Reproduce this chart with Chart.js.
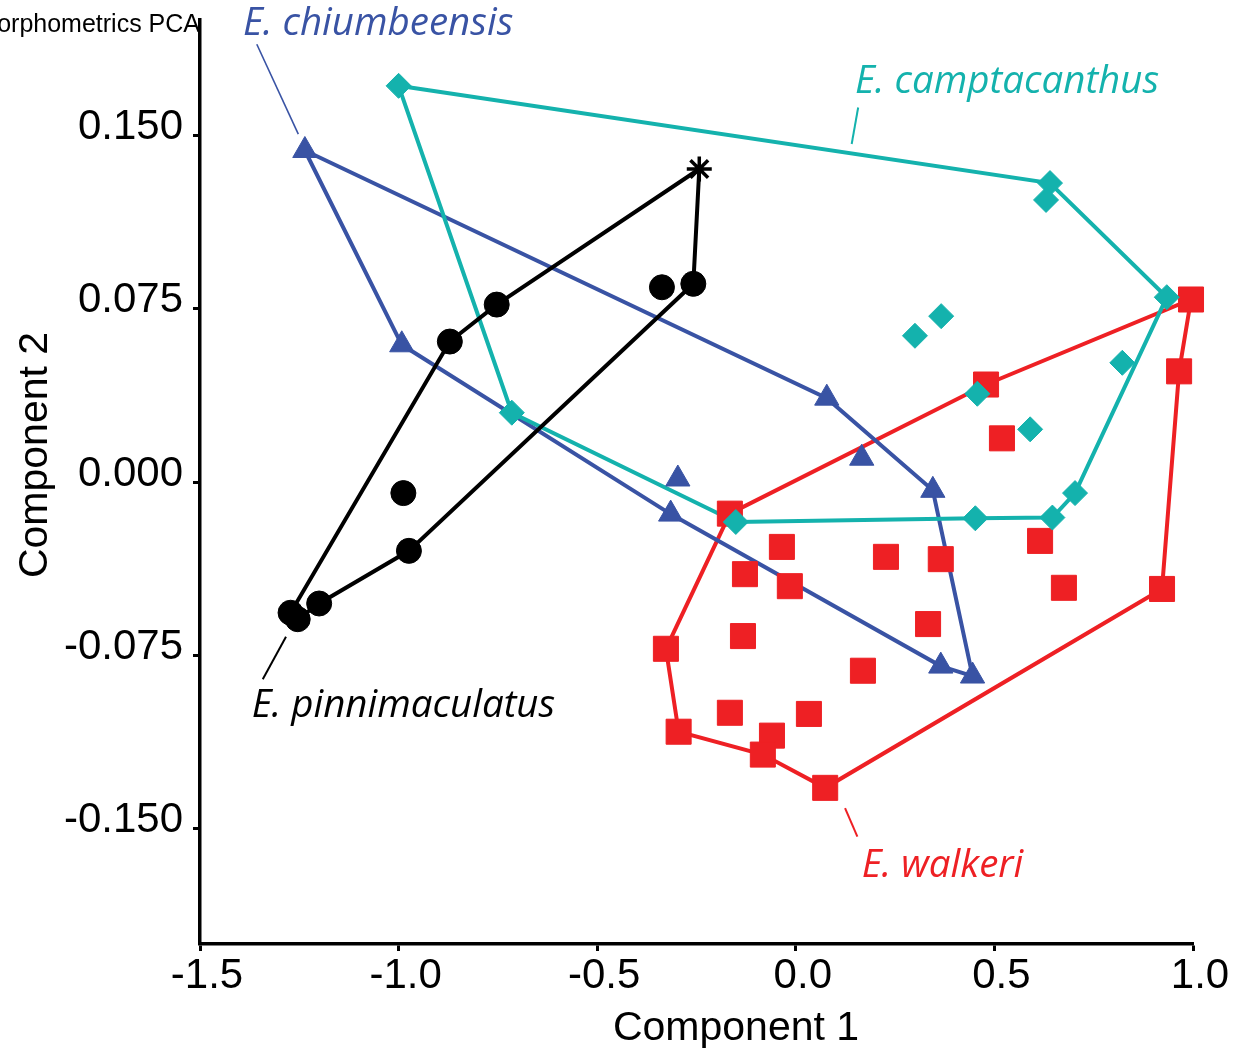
<!DOCTYPE html>
<html>
<head>
<meta charset="utf-8">
<script src="https://cdn.jsdelivr.net/npm/chart.js@4.4.0/dist/chart.umd.min.js"></script>
<style>
  html, body { margin: 0; padding: 0; background: #fff; }
  #wrap { width: 1236px; height: 1049px; }
</style>
</head>
<body>
<div id="wrap"><canvas id="pca" width="1236" height="1049"></canvas></div>
<script>
// axis ticks
const xTicks = [-1.5, -1.0, -0.5, 0.0, 0.5, 1.0];
const yTicks = [-0.150, -0.075, 0.000, 0.075, 0.150];

// E. pinnimaculatus (first specimen is the asterisk)
const pinniX = [-0.243, -0.258, -0.337, -0.753, -0.871, -0.988, -0.974, -1.200, -1.272, -1.254];
const pinniY = [0.1355, 0.0858, 0.0843, 0.0768, 0.0608, -0.0048, -0.0298, -0.0526, -0.0566, -0.0594];
const pinniHull = [0, 1, 6, 7, 9, 8, 4, 3, 0];

// E. chiumbeensis
const chiumX = [-1.236, -0.992, -0.297, -0.315, 0.078, 0.166, 0.345, 0.365, 0.445];
const chiumY = [0.1435, 0.0594, 0.0013, -0.0139, 0.0363, 0.0103, -0.0036, -0.0797, -0.0840];
const chiumHull = [0, 4, 6, 8, 7, 3, 1, 0];

// E. camptacanthus
const camptX = [-1.000, -0.715, -0.151, 0.640, 0.630, 0.934, 0.366, 0.300, 0.822, 0.457, 0.590, 0.703, 0.646, 0.452];
const camptY = [0.1715, 0.0300, -0.0173, 0.1294, 0.1221, 0.0800, 0.0718, 0.0633, 0.0516, 0.0382, 0.0228, -0.0048, -0.0154, -0.0157];
const camptHull = [0, 3, 5, 11, 12, 13, 2, 1, 0];

// E. walkeri
const walkX = [-0.166, -0.035, -0.128, -0.015, 0.227, 0.365, 0.333, -0.133, -0.327, 0.169, -0.166, 0.033,
               -0.295, -0.060, -0.083, 0.074, 0.995, 0.965, 0.479, 0.519, 0.615, 0.675, 0.922];
const walkY = [-0.0137, -0.0281, -0.0399, -0.0451, -0.0324, -0.0334, -0.0615, -0.0667, -0.0722, -0.0817, -0.0999, -0.1004,
               -0.1081, -0.1098, -0.1180, -0.1324, 0.0790, 0.0479, 0.0422, 0.0189, -0.0255, -0.0458, -0.0463];
const walkHull = [0, 18, 16, 17, 22, 15, 14, 12, 8, 0];

// species labels and their leader lines (data units)
const labelText = ['E. chiumbeensis', 'E. camptacanthus', 'E. pinnimaculatus', 'E. walkeri'];
const labelAt = [[-1.392, 0.1934], [0.149, 0.1686], [-1.370, -0.1016], [0.166, -0.1708]];
const leaderFrom = [[-1.357, 0.1895], [0.157, 0.1621], [-1.2835, -0.0670], [0.124, -0.1412]];
const leaderTo = [[-1.2525, 0.1506], [0.1407, 0.1463], [-1.342, -0.0854], [0.155, -0.1535]];

const BLACK = '#000000', BLUE = '#3953a4', TEAL = '#14b2ad', RED = '#ee2024';
const labelColor = [BLUE, TEAL, BLACK, RED];
const leaderWidth = [1.6, 2, 2, 2];

const pts = (xs, ys) => xs.map((x, i) => ({ x: x, y: ys[i] }));
const hull = (xs, ys, idx) => idx.map(i => ({ x: xs[i], y: ys[i] }));

function pointSet(data, color, style, radius) {
    return {
        data: data, showLine: false, clip: false,
        pointStyle: style, pointRadius: radius,
        pointBackgroundColor: color, pointBorderColor: color, pointBorderWidth: 1
    };
}

function hullSet(data, color) {
    return {
        data: data, showLine: true, clip: false, fill: false, tension: 0,
        borderColor: color, borderWidth: 4, pointRadius: 0
    };
}

const pinniSet = pointSet(pts(pinniX, pinniY), BLACK, 'circle', 12.5);
pinniSet.pointStyle = c => c.dataIndex === 0 ? 'star' : 'circle';
pinniSet.pointBorderWidth = c => c.dataIndex === 0 ? 3.5 : 1;

const annotations = {
    id: 'annotations',
    afterDraw(chart) {
        const { ctx, scales: { x, y } } = chart;
        ctx.save();
        // leader lines
        leaderFrom.forEach((p, i) => {
            ctx.beginPath();
            ctx.strokeStyle = labelColor[i];
            ctx.lineWidth = leaderWidth[i];
            ctx.moveTo(x.getPixelForValue(p[0]), y.getPixelForValue(p[1]));
            ctx.lineTo(x.getPixelForValue(leaderTo[i][0]), y.getPixelForValue(leaderTo[i][1]));
            ctx.stroke();
        });
        // species names
        ctx.font = 'italic 38.5px "Open Sans"';
        ctx.textAlign = 'left';
        ctx.textBaseline = 'alphabetic';
        labelText.forEach((t, i) => {
            ctx.fillStyle = labelColor[i];
            ctx.fillText(t, x.getPixelForValue(labelAt[i][0]), y.getPixelForValue(labelAt[i][1]));
        });
        // title, cut off at the left edge as in the figure
        ctx.fillStyle = '#000';
        ctx.font = '25px "Liberation Sans", Arial, sans-serif';
        ctx.textAlign = 'right';
        ctx.fillText('Morphometrics PCA', 200, 32);
        // axis titles
        ctx.font = '41px "Liberation Sans", Arial, sans-serif';
        ctx.textAlign = 'center';
        ctx.fillText('Component 1', 736, 1040);
        ctx.translate(47, 455);
        ctx.rotate(-Math.PI / 2);
        ctx.fillText('Component 2', 0, 0);
        ctx.restore();
    }
};

const tickFont = { family: '"Liberation Sans", Arial, sans-serif', size: 42 };

new Chart(document.getElementById('pca'), {
    type: 'scatter',
    data: {
        datasets: [
            pinniSet,
            pointSet(pts(camptX, camptY), TEAL, 'rectRot', 12.5),
            pointSet(pts(chiumX, chiumY), BLUE, 'triangle', 14),
            pointSet(pts(walkX, walkY), RED, 'rect', 17.7),
            hullSet(hull(pinniX, pinniY, pinniHull), BLACK),
            hullSet(hull(camptX, camptY, camptHull), TEAL),
            hullSet(hull(chiumX, chiumY, chiumHull), BLUE),
            hullSet(hull(walkX, walkY, walkHull), RED)
        ]
    },
    options: {
        responsive: false,
        animation: false,
        devicePixelRatio: 1,
        layout: { autoPadding: false, padding: { left: 0, right: 43, top: 20, bottom: 0 } },
        plugins: { legend: { display: false }, tooltip: { enabled: false } },
        scales: {
            x: {
                type: 'linear', min: -1.5, max: 1.0,
                afterBuildTicks: s => { s.ticks = xTicks.map(v => ({ value: v })); },
                afterFit: s => { s.height = 105; s.paddingLeft = 0; s.paddingRight = 0; },
                border: { display: true, color: '#000', width: 3.5 },
                grid: { drawOnChartArea: false, drawTicks: true, tickLength: 7, tickWidth: 3, tickColor: '#000' },
                ticks: { color: '#000', font: tickFont, padding: 0, labelOffset: 7, maxRotation: 0,
                         callback: v => v.toFixed(1) }
            },
            y: {
                type: 'linear', min: -0.2, max: 0.2,
                afterBuildTicks: s => { s.ticks = yTicks.map(v => ({ value: v })); },
                afterFit: s => { s.width = 200; s.paddingTop = 0; s.paddingBottom = 0; },
                border: { display: true, color: '#000', width: 3.5 },
                grid: { drawOnChartArea: false, drawTicks: true, tickLength: 7, tickWidth: 3, tickColor: '#000' },
                ticks: { color: '#000', font: tickFont, padding: 10, labelOffset: -8,
                         callback: v => v.toFixed(3) }
            }
        }
    },
    plugins: [annotations]
});
</script>
</body>
</html>
